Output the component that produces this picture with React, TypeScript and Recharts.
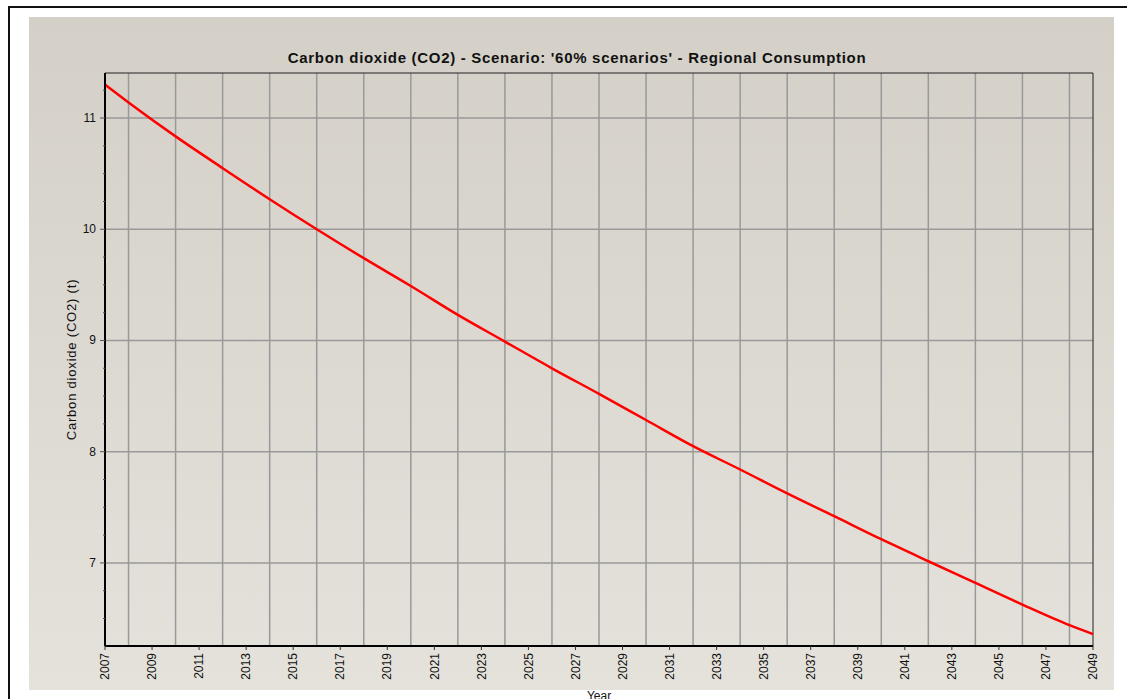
import React from 'react';
import { LineChart, Line, XAxis, YAxis, ReferenceLine } from 'recharts';

// values at each grid year (plus the two ends)
const years = [2007, 2008, 2010, 2012, 2014, 2016, 2018, 2020, 2022, 2024, 2026, 2028, 2030, 2032, 2034, 2036, 2038, 2040, 2042, 2044, 2046, 2048, 2049];
const co2 = [11.3, 11.14, 10.835, 10.55, 10.27, 10.0, 9.74, 9.49, 9.23, 8.99, 8.75, 8.52, 8.285, 8.05, 7.84, 7.625, 7.42, 7.213, 7.015, 6.82, 6.625, 6.44, 6.36];

const xTicks = [2007, 2009, 2011, 2013, 2015, 2017, 2019, 2021, 2023, 2025, 2027, 2029, 2031, 2033, 2035, 2037, 2039, 2041, 2043, 2045, 2047, 2049];
const xGrid = [2008, 2010, 2012, 2014, 2016, 2018, 2020, 2022, 2024, 2026, 2028, 2030, 2032, 2034, 2036, 2038, 2040, 2042, 2044, 2046, 2048];
const yGrid = [7, 8, 9, 10, 11];
const yTicks = [6.5, 6.75, 7, 7.25, 7.5, 7.75, 8, 8.25, 8.5, 8.75, 9, 9.25, 9.5, 9.75, 10, 10.25, 10.5, 10.75, 11, 11.25];

const data = years.map((year, i) => ({ year, value: co2[i] }));

const FONT = '"Liberation Sans", Arial, sans-serif';

const YTick = (props: any) => {
    const { x, y, payload } = props;
    const major = Number.isInteger(payload.value);
    return (
        <g>
            <line x1={x - (major ? 5 : 2)} x2={x} y1={y} y2={y} stroke="#555" />
            {major && (
                <text x={x - 9} y={y} dy={4} textAnchor="end" fontSize={12} fill="#111" fontFamily={FONT}>
                    {payload.value}
                </text>
            )}
        </g>
    );
};

const XTick = (props: any) => {
    const { x, y, payload } = props;
    return (
        <g>
            <line x1={x} x2={x} y1={y} y2={y + 4} stroke="#333" />
            <text
                x={x}
                y={y + 7}
                dy="0.35em"
                textAnchor="end"
                fontSize={12}
                fill="#111"
                fontFamily={FONT}
                transform={`rotate(-90, ${x}, ${y + 7})`}
            >
                {payload.value}
            </text>
        </g>
    );
};

export default function App() {
    return (
        <div style={{ position: 'relative', width: 1127, height: 699, overflow: 'hidden', fontFamily: FONT }}>
            <style>{'body{margin:0}'}</style>
            {/* outer frame, runs off the right and bottom of the window */}
            <div
                style={{
                    position: 'absolute',
                    left: 8,
                    top: 6,
                    width: 1140,
                    height: 720,
                    borderLeft: '2px solid #111',
                    borderTop: '2px solid #111',
                }}
            />
            <div
                style={{
                    position: 'absolute',
                    left: 29,
                    top: 17,
                    width: 1085,
                    height: 673,
                    background: 'linear-gradient(#d4d0c8, #e5e2db)',
                }}
            >
                <div
                    style={{
                        position: 'absolute',
                        left: 0,
                        width: 1096,
                        top: 32,
                        textAlign: 'center',
                        fontWeight: 'bold',
                        fontSize: 15,
                        letterSpacing: 0.7,
                        color: '#111',
                    }}
                >
                    Carbon dioxide (CO2) - Scenario: '60% scenarios' - Regional Consumption
                </div>
                <div style={{ position: 'absolute', left: 0, top: 0 }}>
                    <LineChart width={1085} height={673} data={data} margin={{ top: 56, right: 21, bottom: 0, left: 0 }}>
                        {xGrid.map((g) => (
                            <ReferenceLine key={'x' + g} x={g} stroke="#999" strokeWidth={1.5} />
                        ))}
                        {yGrid.map((g) => (
                            <ReferenceLine key={'y' + g} y={g} stroke="#999" strokeWidth={1.5} />
                        ))}
                        <ReferenceLine y={11.405} stroke="#222" strokeWidth={1} />
                        <ReferenceLine x={2049} stroke="#222" strokeWidth={1} />
                        <XAxis
                            dataKey="year"
                            type="number"
                            domain={[2007, 2049]}
                            ticks={xTicks}
                            interval={0}
                            height={44}
                            tickSize={0}
                            tickMargin={0}
                            tickLine={false}
                            tick={<XTick />}
                            axisLine={{ stroke: '#000', strokeWidth: 2 }}
                        />
                        <YAxis
                            type="number"
                            domain={[6.253, 11.405]}
                            ticks={yTicks}
                            interval={0}
                            width={76}
                            tickSize={0}
                            tickMargin={0}
                            tickLine={false}
                            tick={<YTick />}
                            axisLine={{ stroke: '#000', strokeWidth: 2 }}
                            label={{
                                value: 'Carbon dioxide (CO2) (t)',
                                angle: -90,
                                position: 'insideLeft',
                                offset: 42,
                                style: { textAnchor: 'middle', fontSize: 13, letterSpacing: 0.8, fill: '#111', fontFamily: FONT },
                            }}
                        />
                        <Line
                            type="monotone"
                            dataKey="value"
                            stroke="#ff0000"
                            strokeWidth={2.5}
                            dot={false}
                            isAnimationActive={false}
                        />
                    </LineChart>
                </div>
            </div>
            <div
                style={{
                    position: 'absolute',
                    left: 105,
                    width: 988,
                    top: 689,
                    textAlign: 'center',
                    fontSize: 12,
                    color: '#111',
                }}
            >
                Year
            </div>
        </div>
    );
}
